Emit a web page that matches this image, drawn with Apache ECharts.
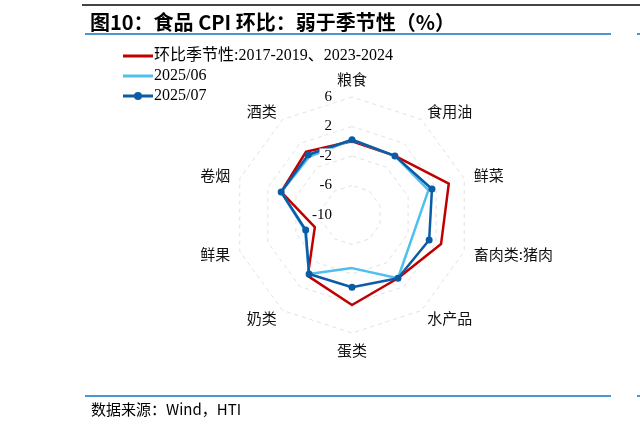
<!DOCTYPE html>
<html>
<head>
<meta charset="utf-8">
<script src="https://cdn.jsdelivr.net/npm/echarts@6/dist/echarts.min.js"></script>
<style>
  html, body { margin: 0; padding: 0; background: #fff; }
  #chart { width: 640px; height: 429px; }
</style>
</head>
<body>
<div id="chart"></div>
<script>
var chartDom = document.getElementById('chart')
var chart = echarts.init(chartDom)

// categories, clockwise from the top
var categories = ['粮食', '食用油', '鲜菜', '畜肉类:猪肉', '水产品', '蛋类', '奶类', '鲜果', '卷烟', '酒类']
var seriesNames = ['环比季节性:2017-2019、2023-2024', '2025/06', '2025/07']
// month-on-month, %
var seasonal = [0.0, -0.1, 3.8, 2.7, 0.6, 2.2, 0.2, -4.7, 0.1, 0.6]
var jun2025 = [0.2, -0.1, 0.9, -1.3, 0.6, -2.8, -0.1, -3.3, 0.1, -0.2]
var jul2025 = [0.2, -0.1, 1.4, 1.0, 0.6, -0.2, -0.1, -3.4, 0.1, 0.1]
var axisMin = -10
var axisMax = 6
var axisStep = 4

var serifFont = "'Liberation Serif', 'Noto Sans CJK SC', serif"
var cjkFont = "'Noto Sans CJK SC', sans-serif"
var center = [352, 215]
var radius = 118

// echarts radar runs counter-clockwise, the source chart runs clockwise
function clockwise(arr) {
  return [arr[0]].concat(arr.slice(1).reverse())
}

function getIndicators() {
  return clockwise(categories).map(function (c) {
    return { name: c, min: axisMin, max: axisMax }
  })
}

// thin line legend icons, bbox pinned to 30x14 by two tiny corner squares
var lineIcon = 'path://M0,5.6 H30 V8.4 H0 Z M0,0 H0.01 V0.01 H0 Z M29.99,13.99 H30 V14 H29.99 Z'
var dotLineIcon = 'path://M0,5.6 H30 V8.4 H0 Z M11,7 A4,4 0 1,1 19,7 A4,4 0 1,1 11,7 Z M0,0 H0.01 V0.01 H0 Z M29.99,13.99 H30 V14 H29.99 Z'

var option = {
  backgroundColor: '#fff',
  animation: false,
  title: [
    {
      text: '图10：食品 CPI 环比：弱于季节性（%）',
      left: 85,
      top: 7,
      textStyle: { fontFamily: cjkFont, fontSize: 20, fontWeight: 'bold', color: '#000' }
    },
    {
      text: '数据来源：Wind，HTI',
      left: 86,
      top: 397,
      textStyle: { fontFamily: cjkFont, fontSize: 15, fontWeight: 'normal', color: '#000' }
    }
  ],
  legend: {
    orient: 'vertical',
    left: 118,
    top: 43,
    itemWidth: 30,
    itemHeight: 14,
    itemGap: 4,
    itemStyle: { borderWidth: 0 },
    data: [
      { name: seriesNames[0], icon: lineIcon },
      { name: seriesNames[1], icon: lineIcon },
      { name: seriesNames[2], icon: dotLineIcon }
    ],
    textStyle: { fontFamily: serifFont, fontSize: 16, color: '#000', padding: [0, 0, 0, -4] }
  },
  radar: {
    center: center,
    radius: radius,
    startAngle: 90,
    shape: 'polygon',
    splitNumber: 4,
    indicator: getIndicators(),
    axisName: { color: '#111', fontFamily: cjkFont, fontSize: 15 },
    nameGap: 10,
    axisLine: { show: false },
    axisTick: { show: false },
    axisLabel: { show: false },
    splitArea: { show: false },
    splitLine: { lineStyle: { color: '#e2e2e2', width: 1, type: [4, 4] } }
  },
  polar: { center: center, radius: radius },
  angleAxis: { show: false, startAngle: 90, min: 0, max: 360 },
  radiusAxis: {
    min: axisMin,
    max: axisMax,
    interval: axisStep,
    z: 10,
    axisLine: { show: false },
    axisTick: { show: false },
    splitLine: { show: false },
    axisLabel: {
      margin: 20,
      fontFamily: serifFont,
      fontSize: 15,
      color: '#000',
      backgroundColor: '#fff'
    }
  },
  series: [
    {
      type: 'radar',
      z: 2,
      data: [
        {
          name: seriesNames[0],
          value: clockwise(seasonal),
          symbol: 'none',
          itemStyle: { color: '#C00000' },
          lineStyle: { color: '#C00000', width: 2.5 }
        },
        {
          name: seriesNames[1],
          value: clockwise(jun2025),
          symbol: 'none',
          itemStyle: { color: '#4EBFEF' },
          lineStyle: { color: '#4EBFEF', width: 2.5 }
        },
        {
          name: seriesNames[2],
          value: clockwise(jul2025),
          symbol: 'circle',
          symbolSize: 7,
          itemStyle: { color: '#0B5CA5' },
          lineStyle: { color: '#0B5CA5', width: 2.5 }
        }
      ]
    }
  ],
  graphic: [
    { type: 'rect', shape: { x: 82, y: 4, width: 558, height: 2 }, style: { fill: '#444' } },
    { type: 'rect', shape: { x: 85, y: 33, width: 526, height: 2 }, style: { fill: '#4A97CF' } },
    { type: 'rect', shape: { x: 637, y: 33, width: 3, height: 2 }, style: { fill: '#4A97CF' } },
    { type: 'rect', shape: { x: 85, y: 395, width: 526, height: 2 }, style: { fill: '#4A97CF' } },
    { type: 'rect', shape: { x: 637, y: 395, width: 3, height: 2 }, style: { fill: '#4A97CF' } }
  ]
}

if (option && typeof option === 'object') {
  chart.setOption(option)
}
</script>
</body>
</html>
